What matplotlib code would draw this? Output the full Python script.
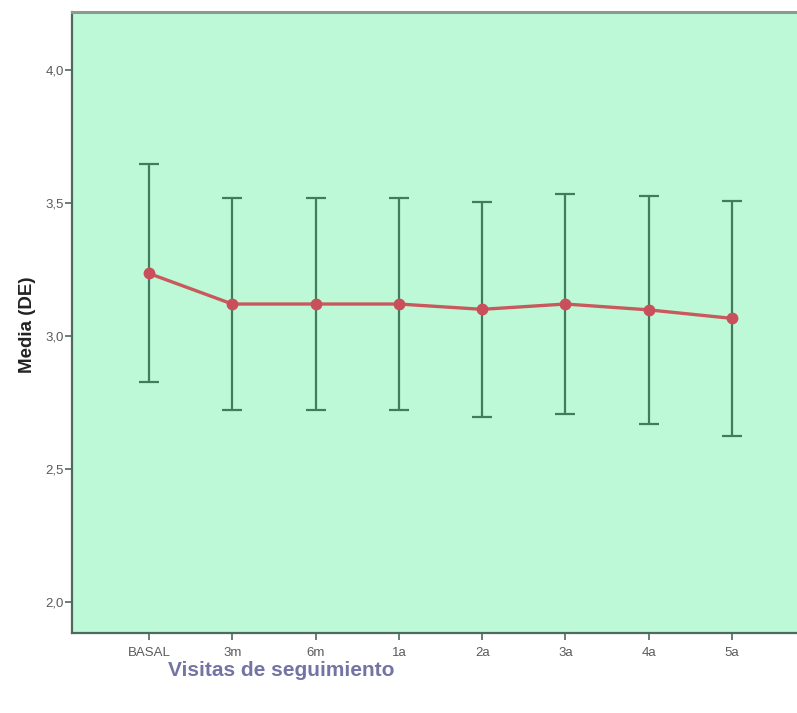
import matplotlib
matplotlib.use("Agg")
import matplotlib.pyplot as plt
import numpy as np

# Follow-up visits: mean score and standard deviation at each visit
visits = ["BASAL", "3m", "6m", "1a", "2a", "3a", "4a", "5a"]
means = [3.235, 3.120, 3.120, 3.120, 3.100, 3.120, 3.098, 3.066]
sds = [0.410, 0.400, 0.400, 0.400, 0.405, 0.415, 0.430, 0.442]
yticks = [2.0, 2.5, 3.0, 3.5, 4.0]
ytick_labels = ["2,0", "2,5", "3,0", "3,5", "4,0"]

plt.rcParams["font.family"] = ["Liberation Sans", "DejaVu Sans"]

W, H = 797, 713
fig = plt.figure(figsize=(W / 100, H / 100), dpi=100)
left, right, top, bottom = 72, 797, 12, 633
ax = fig.add_axes([left / W, 1 - bottom / H, (right - left) / W, (bottom - top) / H])
ax.set_facecolor("#bdf9d6")

x = np.arange(len(visits))
ax.errorbar(x, means, yerr=sds, fmt="none", ecolor="#3f7d5c", elinewidth=1.6,
            capsize=7.5, capthick=1.6, zorder=2)
ax.plot(x, means, color="#c85a5e", lw=2.4, marker="o", ms=7.5,
        mfc="#c9505a", mec="#c9505a", zorder=3)

ax.set_xlim(-0.924, 7.78)
ax.set_ylim(1.883, 4.218)
ax.set_yticks(yticks)
ax.set_yticklabels(ytick_labels)
ax.set_xticks(x)
ax.set_xticklabels(visits)

for s in ("left", "bottom"):
    ax.spines[s].set_color("#4d6b5c")
    ax.spines[s].set_linewidth(1.6)
ax.spines["top"].set_color("#8c9a92")
ax.spines["top"].set_linewidth(2.2)
ax.spines["right"].set_visible(False)

ax.tick_params(axis="both", direction="out", length=5, width=1.2,
               color="#4d6b5c", labelsize=9.5, labelcolor="#5a5a5a", pad=1)
ax.tick_params(axis="x", pad=5)

ax.set_ylabel("Media (DE)", fontsize=13.5, fontweight="bold", color="#222222",
              labelpad=0)
ax.yaxis.set_label_coords(-(72 - 36) / (right - left), 0.496)

fig.text(281 / W, 1 - 670 / H, "Visitas de seguimiento", fontsize=15,
         fontweight="bold", color="#7474a4", ha="center", va="center")

fig.savefig("out.png", dpi=100, facecolor="white")
